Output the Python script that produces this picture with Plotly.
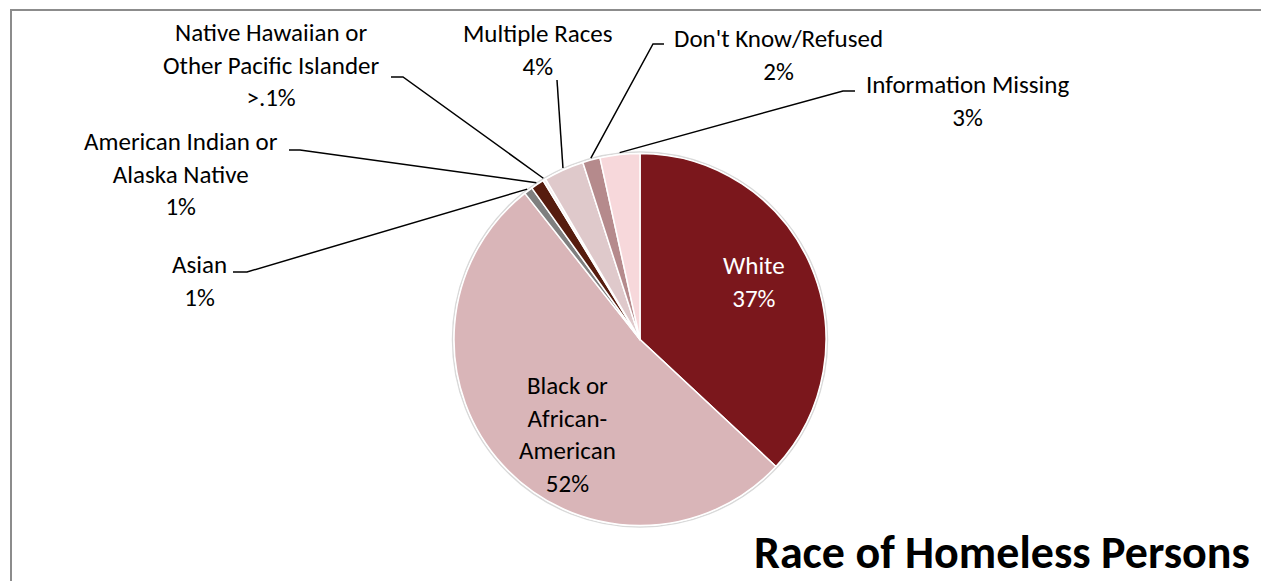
import math
import plotly.graph_objects as go

# ---------------- data ----------------
categories = ["White", "Black or African-American", "Asian",
              "American Indian or Alaska Native",
              "Native Hawaiian or Other Pacific Islander",
              "Multiple Races", "Don't Know/Refused", "Information Missing"]
values = [36.96, 52.43, 0.75, 1.15, 0.25, 3.50, 1.52, 3.45]
pct_labels = ["37%", "52%", "1%", "1%", ">.1%", "4%", "2%", "3%"]
label_lines = [["White"], ["Black or", "African-", "American"], ["Asian"],
               ["American Indian or", "Alaska Native"],
               ["Native Hawaiian or", "Other Pacific Islander"],
               ["Multiple Races"], ["Don't Know/Refused"], ["Information Missing"]]
title_text = "Race of Homeless Persons"

# ---------------- styles / layout ----------------
colors = ["#7B171C", "#D9B5B8", "#7F7F7F", "#561C0E", "#F4EEEE",
          "#DFC9CB", "#B58A8C", "#F7D8DB"]
OFF = 8                      # page body margin
W, H = 1269 - OFF, 581 - OFF
CX, CY, R = 640, 339.5, 186
FONT = "Carlito, Calibri, Lato, sans-serif"
FS = 25

def px(x):
    return (x - OFF) / W

def py(y):
    return 1 - (y - OFF) / H

# label text anchors (px in window: center x, block middle y), text colour
label_pos = [(754, 282, "white"), (567, 434, "#000000"), (200, 281, "#000000"),
             (181, 174, "#000000"), (271, 65, "#000000"), (537, 50, "#000000"),
             (778, 55, "#000000"), (967, 101, "#000000")]
# leader lines: label-side points (px), None = label inside slice
leader_pts = [None, None, [(233, 272), (247, 272)], [(289, 150), (300, 150)],
              [(391, 77), (403, 77)], [(557, 80)], [(664, 44), (653, 44)],
              [(855, 91), (843, 91)]]

fig = go.Figure()
fig.add_trace(go.Pie(
    labels=categories, values=values, sort=False, direction="clockwise",
    rotation=0, marker=dict(colors=colors, line=dict(color="white", width=1.5)),
    textinfo="none", hoverinfo="label+percent", showlegend=False,
    domain=dict(x=[px(CX - R), px(CX + R)], y=[py(CY + R), py(CY - R)]),
))

shapes = []
annotations = []
total = sum(values)
cum = 0.0
for i, v in enumerate(values):
    mid = (cum + v / 2) / total * 360.0
    cum += v
    text = "<br>".join(label_lines[i] + [pct_labels[i]])
    lx, ly, col = label_pos[i]
    annotations.append(dict(x=px(lx), y=py(ly), xref="paper", yref="paper",
                            text=text, showarrow=False, xanchor="center",
                            yanchor="middle", align="center",
                            font=dict(family=FONT, size=FS, color=col)))
    pts = leader_pts[i]
    if pts:
        rr = R + 2
        ex = CX + rr * math.sin(math.radians(mid))
        ey = CY - rr * math.cos(math.radians(mid))
        path = "M " + " L ".join(f"{px(x):.5f},{py(y):.5f}" for x, y in pts + [(ex, ey)])
        shapes.append(dict(type="path", path=path, xref="paper", yref="paper",
                           line=dict(color="#000000", width=1.5)))

# outer faint rim of pie
shapes.append(dict(type="circle", xref="paper", yref="paper", layer="below",
                   x0=px(CX - R - 1.5), x1=px(CX + R + 1.5),
                   y0=py(CY + R + 1.5), y1=py(CY - R - 1.5),
                   line=dict(color="#D9D9D9", width=1.5)))
# chart frame
shapes.append(dict(type="rect", xref="paper", yref="paper",
                   x0=px(11), x1=px(1266), y0=py(620), y1=py(10),
                   line=dict(color="#8C8C8C", width=2)))

annotations.append(dict(x=px(1252), y=py(552), xref="paper", yref="paper",
                        text=f"<b>{title_text}</b>", showarrow=False,
                        xanchor="right", yanchor="middle",
                        font=dict(family=FONT, size=46, color="#000000")))

fig.update_layout(width=W, height=H, margin=dict(l=0, r=0, t=0, b=0),
                  paper_bgcolor="white", plot_bgcolor="white",
                  shapes=shapes, annotations=annotations)
fig.write_html("out.html")
